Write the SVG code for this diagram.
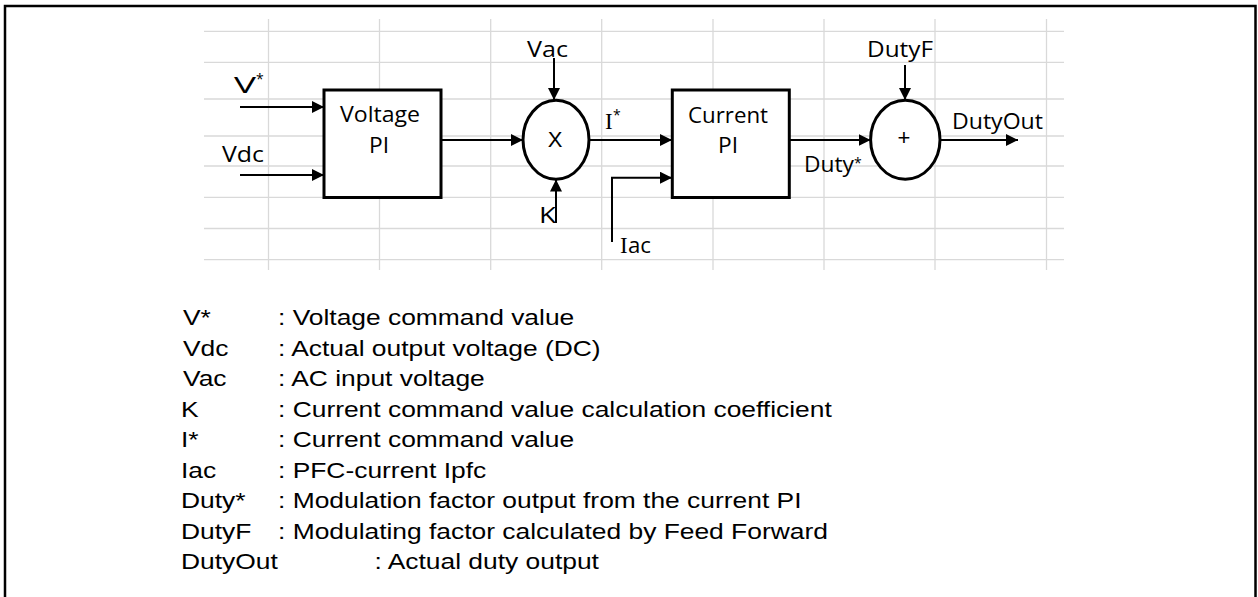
<svg xmlns="http://www.w3.org/2000/svg" width="1258" height="597" viewBox="0 0 1258 597">
<style>
.grid line{stroke:#d9d9d9;stroke-width:1.3}
.blk{fill:#fff;stroke:#000;stroke-width:3}
.wire{fill:none;stroke:#000;stroke-width:2}
.lbl{font-family:"Open Sans","Noto Sans",sans-serif;font-size:21.5px;fill:#000}
.sym{font-family:"Liberation Sans",Arial,sans-serif;font-size:22px;fill:#000}
.sup{font-family:"Open Sans","Noto Sans",sans-serif;font-size:14px;fill:#000}
.ser{font-family:"Liberation Serif",serif;font-size:23px;fill:#000}
.leg{font-family:"Liberation Sans",Arial,sans-serif;font-size:22px;fill:#000}
</style>
<defs>
<marker id="ah" markerUnits="userSpaceOnUse" markerWidth="12" markerHeight="12" refX="12" refY="6" orient="auto">
<path d="M0,0 L12,6 L0,12 z" fill="#000"/>
</marker>
</defs>
<rect x="0" y="0" width="1258" height="597" fill="#fff"/>
<rect x="5" y="6" width="1250.5" height="600" fill="none" stroke="#000" stroke-width="2.5"/>
<g class="grid">
<line x1="268.5" y1="19" x2="268.5" y2="270"/>
<line x1="379.5" y1="19" x2="379.5" y2="270"/>
<line x1="490.7" y1="19" x2="490.7" y2="270"/>
<line x1="601.7" y1="19" x2="601.7" y2="270"/>
<line x1="713" y1="19" x2="713" y2="270"/>
<line x1="824" y1="19" x2="824" y2="270"/>
<line x1="935" y1="19" x2="935" y2="270"/>
<line x1="1046.5" y1="19" x2="1046.5" y2="270"/>
<line x1="204" y1="31.3" x2="1064" y2="31.3"/>
<line x1="204" y1="62.3" x2="1064" y2="62.3"/>
<line x1="204" y1="99" x2="1064" y2="99"/>
<line x1="204" y1="136" x2="1064" y2="136"/>
<line x1="204" y1="166" x2="1064" y2="166"/>
<line x1="204" y1="197.3" x2="1064" y2="197.3"/>
<line x1="204" y1="228.5" x2="1064" y2="228.5"/>
<line x1="204" y1="259.7" x2="1064" y2="259.7"/>
</g>
<g id="connectors">
<line class="wire" x1="240" y1="107" x2="324" y2="107" marker-end="url(#ah)"/>
<line class="wire" x1="240" y1="175" x2="324" y2="175" marker-end="url(#ah)"/>
<line class="wire" x1="441" y1="140" x2="523" y2="140" marker-end="url(#ah)"/>
<line class="wire" x1="554" y1="58" x2="554" y2="100" marker-end="url(#ah)"/>
<line class="wire" x1="556" y1="223" x2="556" y2="179.5" marker-end="url(#ah)"/>
<line class="wire" x1="589" y1="140" x2="672" y2="140" marker-end="url(#ah)"/>
<polyline class="wire" points="612,242 612,177.7 672,177.7" marker-end="url(#ah)"/>
<line class="wire" x1="789" y1="140" x2="870.6" y2="140" marker-end="url(#ah)"/>
<line class="wire" x1="905" y1="65" x2="905" y2="100" marker-end="url(#ah)"/>
<line class="wire" x1="940" y1="140" x2="1018" y2="140" marker-end="url(#ah)"/>
</g>
<g id="voltage-pi">
<rect class="blk" x="324" y="90" width="117" height="107.5"/>
<text class="lbl" x="380" y="122" text-anchor="middle" textLength="80" lengthAdjust="spacingAndGlyphs">Voltage</text>
<text class="lbl" x="379" y="153" text-anchor="middle" textLength="20" lengthAdjust="spacingAndGlyphs">PI</text>
</g>
<g id="multiplier">
<ellipse class="blk" cx="556" cy="139.7" rx="33" ry="39.5"/>
<text class="sym" x="555" y="147" text-anchor="middle">X</text>
</g>
<g id="current-pi">
<rect class="blk" x="672.3" y="90" width="117" height="107.5"/>
<text class="lbl" x="728" y="123" text-anchor="middle" textLength="80" lengthAdjust="spacingAndGlyphs">Current</text>
<text class="lbl" x="728" y="153" text-anchor="middle" textLength="20" lengthAdjust="spacingAndGlyphs">PI</text>
</g>
<g id="adder">
<ellipse class="blk" cx="905.3" cy="139.7" rx="34.7" ry="39.5"/>
<text class="sym" x="904" y="145" text-anchor="middle">+</text>
</g>
<g id="labels">
<text class="lbl" x="234" y="93" textLength="22" lengthAdjust="spacingAndGlyphs">V</text>
<text class="sup" x="256" y="84">*</text>
<text class="lbl" x="222" y="162" textLength="42" lengthAdjust="spacingAndGlyphs">Vdc</text>
<text class="lbl" x="527" y="57" textLength="41" lengthAdjust="spacingAndGlyphs">Vac</text>
<text class="lbl" x="539" y="223" textLength="17" lengthAdjust="spacingAndGlyphs">K</text>
<text class="ser" x="605" y="129">I</text>
<text class="sup" x="613" y="120">*</text>
<text class="ser" x="620" y="253">I</text>
<text class="lbl" x="628" y="253" textLength="23" lengthAdjust="spacingAndGlyphs">ac</text>
<text class="lbl" x="804" y="172" textLength="50" lengthAdjust="spacingAndGlyphs">Duty</text>
<text class="sup" x="854" y="168">*</text>
<text class="lbl" x="867" y="57" textLength="66" lengthAdjust="spacingAndGlyphs">DutyF</text>
<text class="lbl" x="952" y="129" textLength="91" lengthAdjust="spacingAndGlyphs">DutyOut</text>
</g>
<g id="legend">
<text class="leg" transform="matrix(1.2 0 0 1 183 325)">V*</text>
<text class="leg" transform="matrix(1.2 0 0 1 278 325)">: Voltage command value</text>
<text class="leg" transform="matrix(1.2 0 0 1 183 355.5)">Vdc</text>
<text class="leg" transform="matrix(1.2 0 0 1 278 355.5)">: Actual output voltage (DC)</text>
<text class="leg" transform="matrix(1.2 0 0 1 183 386)">Vac</text>
<text class="leg" transform="matrix(1.2 0 0 1 278 386)">: AC input voltage</text>
<text class="leg" transform="matrix(1.2 0 0 1 181 416.5)">K</text>
<text class="leg" transform="matrix(1.2 0 0 1 278 416.5)">: Current command value calculation coefficient</text>
<text class="leg" transform="matrix(1.2 0 0 1 181 447)">I*</text>
<text class="leg" transform="matrix(1.2 0 0 1 278 447)">: Current command value</text>
<text class="leg" transform="matrix(1.2 0 0 1 181 477.5)">Iac</text>
<text class="leg" transform="matrix(1.2 0 0 1 278 477.5)">: PFC-current Ipfc</text>
<text class="leg" transform="matrix(1.2 0 0 1 181 508)">Duty*</text>
<text class="leg" transform="matrix(1.2 0 0 1 278 508)">: Modulation factor output from the current PI</text>
<text class="leg" transform="matrix(1.2 0 0 1 181 538.5)">DutyF</text>
<text class="leg" transform="matrix(1.2 0 0 1 278 538.5)">: Modulating factor calculated by Feed Forward</text>
<text class="leg" transform="matrix(1.2 0 0 1 181 569)">DutyOut</text>
<text class="leg" transform="matrix(1.2 0 0 1 374.5 569)">: Actual duty output</text>
</g>
</svg>
